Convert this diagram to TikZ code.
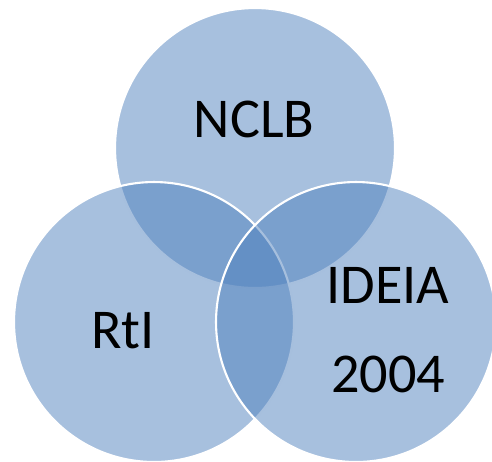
\documentclass[tikz,border=0pt]{standalone}
\usepackage{fontspec}
\setmainfont{Carlito}
\definecolor{VennBlue}{HTML}{4F81BD}
\tikzset{
  venn/.style={circle,draw=white,line width=1.2pt,fill=VennBlue,fill opacity=.5,
    minimum size=5.6cm,inner sep=0pt,outer sep=0pt},
  vennlabel/.style={font=\fontsize{32}{51}\selectfont,align=center,text=black}
}
\begin{document}
\begin{tikzpicture}[x=0.02cm,y=-0.02cm]
\path[use as bounding box] (0,0) rectangle (492,461);
\node[venn] (nclb) at (255,148) {};
\node[venn] (rti) at (154,322) {};
\node[venn] (ideia) at (356,322) {};
\node[vennlabel] (nclbtext) at (254,119) {NCLB};
\node[vennlabel] (rtitext) at (123,331) {RtI};
\node[vennlabel] (ideiatext) at (388,330) {IDEIA\\2004};
\end{tikzpicture}
\end{document}
